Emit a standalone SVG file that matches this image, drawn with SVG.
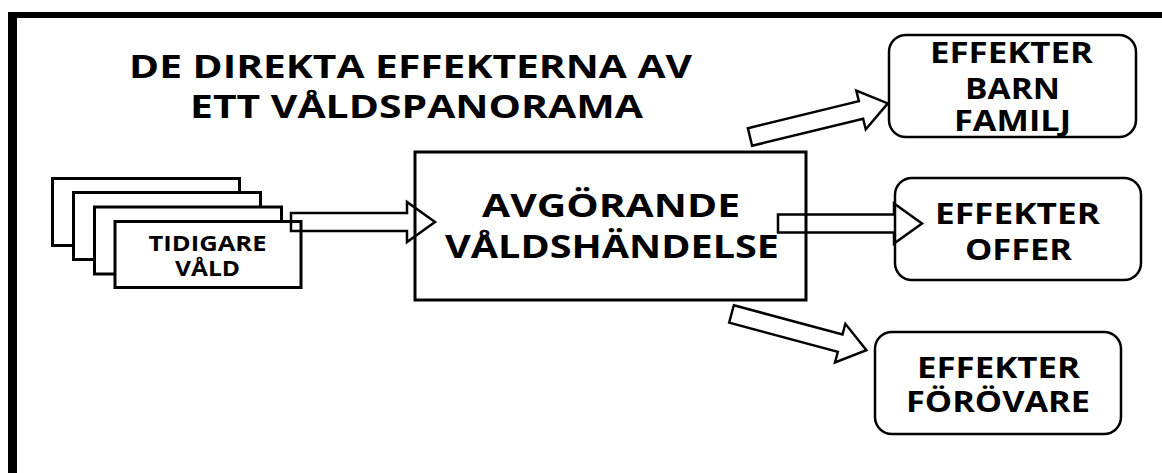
<svg xmlns="http://www.w3.org/2000/svg" width="1162" height="473" viewBox="0 0 1162 473">
<style>
.t{font-family:"Open Sans","Liberation Sans",sans-serif;font-weight:bold;fill:#000}
.box{fill:#fff;stroke:#000;stroke-width:3}
.rbox{fill:#fff;stroke:#000;stroke-width:2.5}
.arr{fill:none;stroke:#000;stroke-width:2.5;stroke-linejoin:miter}
</style>
<defs>
<path id="blk" d="M0,-9 L116,-9 L116,-20 L144,0 L116,20 L116,9 L0,9 Z"/>
</defs>
<rect x="0" y="0" width="1162" height="473" fill="#fff"/>
<g id="frame">
<rect x="8" y="12" width="9" height="461" fill="#000"/>
<rect x="8" y="12" width="1154" height="6" fill="#000"/>
</g>
<g id="title">
<text class="t" x="129" y="78" font-size="32" textLength="563" lengthAdjust="spacingAndGlyphs">DE DIREKTA EFFEKTERNA AV</text>
<text class="t" x="190" y="118" font-size="32" textLength="453" lengthAdjust="spacingAndGlyphs">ETT VÅLDSPANORAMA</text>
</g>
<g id="tidigare">
<rect class="box" x="52.5" y="178.5" width="187" height="67"/>
<rect class="box" x="73.5" y="192.5" width="187" height="67"/>
<rect class="box" x="94.5" y="207" width="187" height="67"/>
<rect class="box" x="115" y="221.5" width="186" height="66"/>
<text class="t" x="148.5" y="251" font-size="22" textLength="118" lengthAdjust="spacingAndGlyphs">TIDIGARE</text>
<text class="t" x="175" y="276" font-size="22" textLength="65" lengthAdjust="spacingAndGlyphs">VÅLD</text>
</g>
<g id="main">
<rect class="box" x="415" y="152" width="391" height="148"/>
<text class="t" x="482" y="217" font-size="32" textLength="258" lengthAdjust="spacingAndGlyphs">AVGÖRANDE</text>
<text class="t" x="445" y="258" font-size="32" textLength="334" lengthAdjust="spacingAndGlyphs">VÅLDSHÄNDELSE</text>
</g>
<g id="barn">
<rect class="rbox" x="889" y="35" width="247" height="102" rx="17"/>
<text class="t" x="930" y="63" font-size="28" textLength="163" lengthAdjust="spacingAndGlyphs">EFFEKTER</text>
<text class="t" x="965" y="99" font-size="28" textLength="95" lengthAdjust="spacingAndGlyphs">BARN</text>
<text class="t" x="954" y="131" font-size="28" textLength="117" lengthAdjust="spacingAndGlyphs">FAMILJ</text>
</g>
<g id="offer">
<rect class="rbox" x="895" y="178" width="246" height="102" rx="17"/>
<text class="t" x="935" y="224" font-size="29" textLength="165" lengthAdjust="spacingAndGlyphs">EFFEKTER</text>
<text class="t" x="965" y="260" font-size="29" textLength="107" lengthAdjust="spacingAndGlyphs">OFFER</text>
</g>
<g id="forovare">
<rect class="rbox" x="875" y="332" width="246" height="102" rx="17"/>
<text class="t" x="917" y="378" font-size="29" textLength="163" lengthAdjust="spacingAndGlyphs">EFFEKTER</text>
<text class="t" x="906" y="412" font-size="29" textLength="184" lengthAdjust="spacingAndGlyphs">FÖRÖVARE</text>
</g>
<g id="connectors">
<use href="#blk" class="arr" transform="translate(291,222)"/>
<use href="#blk" class="arr" transform="translate(778,223.5)"/>
<use href="#blk" class="arr" transform="translate(750,137) rotate(-13.7) scale(0.985,1)"/>
<use href="#blk" class="arr" transform="translate(731.5,314) rotate(15) scale(0.97,1)"/>
</g>
</svg>
